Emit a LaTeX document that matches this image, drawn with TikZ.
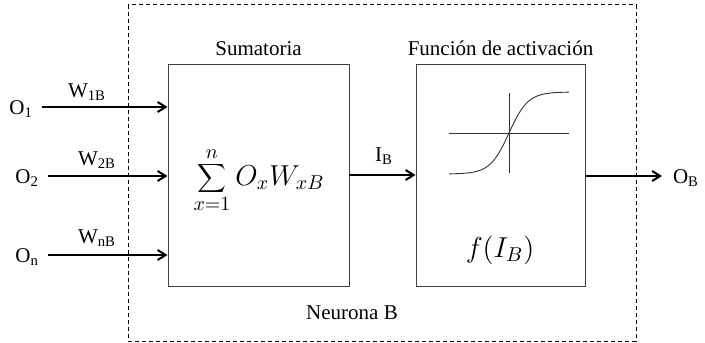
\documentclass[tikz,border=0pt]{standalone}
\usepackage{fontspec}
\setmainfont{Liberation Serif}
\usetikzlibrary{arrows.meta, positioning, calc}

\begin{document}
\begin{tikzpicture}[
  x=0.5pt, y=-0.5pt,
  font=\fontsize{10.5}{12}\selectfont,
  block/.style={rectangle, draw=black!75, line width=0.5pt, inner sep=0pt},
  arr/.style={-{Straight Barb[length=4pt, width=5pt]}, line width=1pt},
  frame/.style={draw, line width=0.5pt, dash pattern=on 2pt off 1.5pt},
  axis/.style={draw=black!80, line width=0.45pt}
]
\useasboundingbox (0,0) rectangle (705,342);

% Neurona
\draw[frame] (128,5) rectangle (636,341);
\node (neur) at (352,313) {Neurona B};

% Bloques
\node[block, minimum width=90.5pt, minimum height=110.5pt] (suma) at (258.5,175.5) {};
\node[block, minimum width=84.5pt, minimum height=110.5pt] (act) at (500.5,175.5) {};
\node[above=1pt of suma] (suma_t) {Sumatoria};
\node[above=1pt of act] (act_t) {Función de activación};

\node at (259,180) (formula) {\Large$\displaystyle\sum_{x=1}^{n} O_x W_{xB}$};
\node at (500,250) (fib) {\Large$f(I_B)$};

% Sigmoide
\draw[axis] (449,133) -- (569,133);
\draw[axis] (509,93) -- (509,173);
\draw[axis, domain=-60:60, samples=60, smooth]
  plot ({509+\x},{133-41*tanh(\x/19)});

% Entradas
\node[anchor=east] (o1) at (40,109) {O\textsubscript{1}};
\node[anchor=east] (o2) at (46,178) {O\textsubscript{2}};
\node[anchor=east] (on) at (46,257) {O\textsubscript{n}};
\coordinate (i1) at (42,107);
\coordinate (i2) at (48,176);
\coordinate (in) at (48,255);
\draw[arr] (i1) -- (i1 -| suma.west);
\draw[arr] (i2) -- (i2 -| suma.west);
\draw[arr] (in) -- (in -| suma.west);
\node (w1) at (87,92) {W\textsubscript{1B}};
\node (w2) at (97,160) {W\textsubscript{2B}};
\node (wn) at (97,238) {W\textsubscript{nB}};

% Salidas
\coordinate (ib) at (349,175);
\draw[arr] (ib) -- (ib -| act.west);
\node (ib_t) at (384,156) {I\textsubscript{B}};
\coordinate (out) at (662,176);
\draw[arr] (out -| act.east) -- (out);
\node[anchor=west] (ob) at (666,178) {O\textsubscript{B}};

\end{tikzpicture}
\end{document}
